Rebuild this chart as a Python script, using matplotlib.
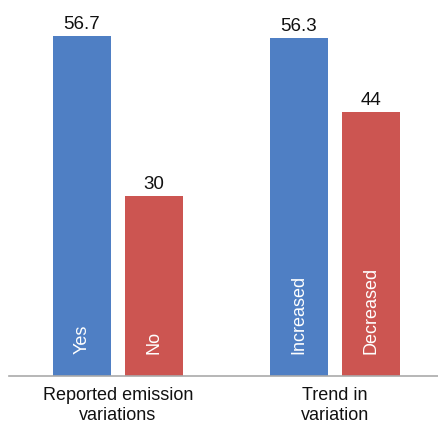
import matplotlib.pyplot as plt

plt.rcParams['font.family'] = ['Liberation Sans', 'DejaVu Sans']

groups = ["Reported emission\nvariations", "Trend in\nvariation"]
bar_labels = ["Yes", "No", "Increased", "Decreased"]
values = [56.7, 30, 56.3, 44]
positions = [0, 1, 3.01, 4.01]
colors = ["#4f7fc4", "#cc5551", "#4f7fc4", "#cc5551"]

fig = plt.figure(figsize=(4.39, 4.23), dpi=100)
ax = fig.add_axes([9 / 439, 1 - 376 / 423, 430 / 439, 354 / 423])

bars = ax.bar(positions, values, width=0.806, color=colors)

for b, v, lab in zip(bars, values, bar_labels):
    x = b.get_x() + b.get_width() / 2
    ax.annotate(f"{v:g}", (x, v), xytext=(0, 2), textcoords="offset points",
                ha="center", va="bottom", fontsize=13.5, color="#111111")
    ax.annotate(lab, (x, 0), xytext=(0, 16), textcoords="offset points",
                ha="center", va="bottom", rotation=90, fontsize=13, color="white")

ax.set_xlim(-1.014, 4.96)
ax.set_ylim(0, 59)
ax.set_xticks([(positions[0] + positions[1]) / 2, (positions[2] + positions[3]) / 2])
ax.set_xticklabels(groups, fontsize=13, color="#111111", linespacing=1.2)
ax.tick_params(axis="x", length=0, pad=8)
ax.set_yticks([])
for s in ["top", "right", "left"]:
    ax.spines[s].set_visible(False)
ax.spines["bottom"].set_color("#aaaaaa")
ax.spines["bottom"].set_linewidth(1.2)

fig.savefig("out.png", dpi=100)
